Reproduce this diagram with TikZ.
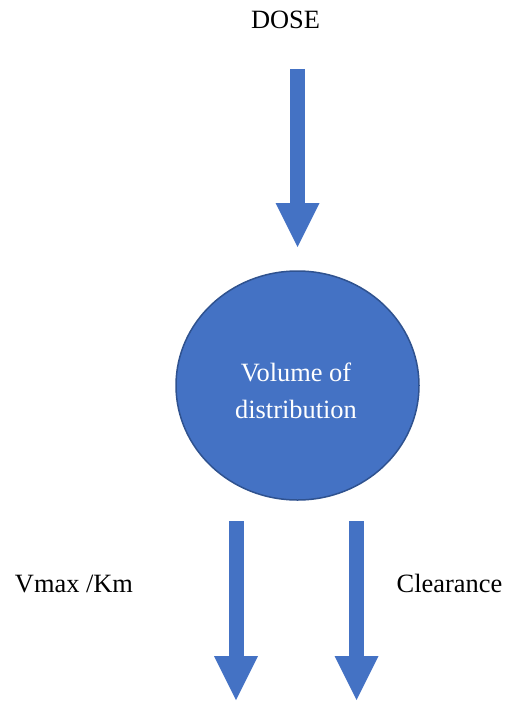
\documentclass[tikz,border=0pt]{standalone}
\usepackage{fontspec}
\setmainfont{Liberation Serif}
\usetikzlibrary{shapes.geometric, arrows.meta, positioning}
\definecolor{vdblue}{HTML}{4472C4}
\definecolor{vdedge}{HTML}{2F528F}

\begin{document}
\begin{tikzpicture}[
            x=1bp, y=-1bp,
            txt/.style={font=\fontsize{26.5}{30}\selectfont, inner sep=0pt, anchor=base},
            compartment/.style={ellipse, draw=vdedge, fill=vdblue, line width=1.5bp, minimum width=243bp, minimum height=229bp, inner sep=0pt},
            flow/.style={draw=vdblue, line width=15bp, -{Triangle[length=44bp, width=44bp, line width=0pt, fill=vdblue]}}
        ]
        \useasboundingbox (0,0) rectangle (510,702);

        \node[txt] (dose) at (285.5,29) {DOSE};
        \node[compartment] (vd) at (297.5,385.5) {};
        \node[txt, anchor=center, align=center, text=white, font=\fontsize{26.5}{37}\selectfont] (vdtext) at (296,391) {Volume of\\distribution};
        \node[txt] (vmax) at (74,592) {Vmax /Km};
        \node[txt] (cl) at (449.5,592) {Clearance};

        \coordinate (dose in) at (297.5,69);
        \coordinate (dose tip) at (297.5,247);
        \coordinate (vmax out) at (236,521);
        \coordinate (vmax tip) at (236,700);
        \coordinate (cl out) at (356.5,521);
        \coordinate (cl tip) at (356.5,700);

        \draw[flow] (dose in) -- (dose tip);
        \draw[flow] (vmax out) -- (vmax tip);
        \draw[flow] (cl out) -- (cl tip);

        \end{tikzpicture}
\end{document}
